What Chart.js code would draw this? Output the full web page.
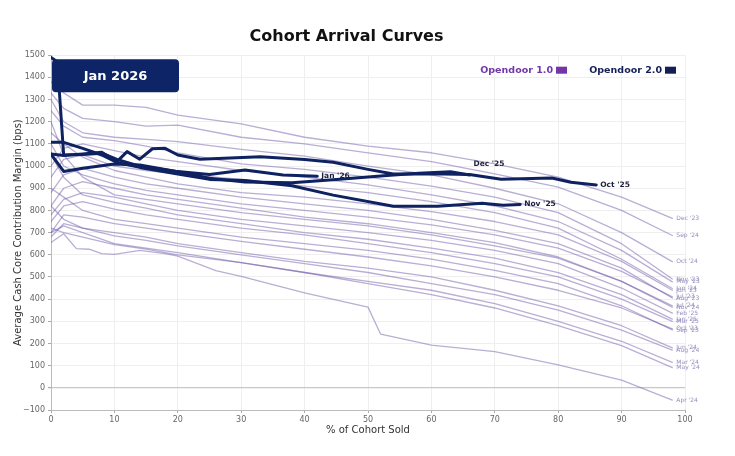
<!DOCTYPE html>
<html lang="en">
<head>
  <meta charset="UTF-8" />
  <title>Cohort Arrival Curves</title>
  <script src="https://cdn.jsdelivr.net/npm/chart.js"></script>
  <style>
    html, body { margin: 0; padding: 0; background: #fff; }
    #wrap { width: 735px; height: 456px; }
  </style>
</head>
<body>
  <div id="wrap"><canvas id="myChart"></canvas></div>

  <script>
    // % of cohort sold, shared x grid for the Opendoor 1.0 cohorts
    const pctSold = [0, 2, 5, 10, 15, 20, 30, 40, 50, 60, 70, 80, 90, 98];

    // Opendoor 1.0 cohorts (bps)
    const dec23 = [1380, 1330, 1275, 1275, 1265, 1230, 1190, 1130, 1090, 1060, 1010, 950, 860, 764];
    const sep24 = [1330, 1260, 1215, 1200, 1180, 1185, 1130, 1100, 1060, 1020, 965, 905, 800, 687];
    const oct24 = [1300, 1200, 1150, 1130, 1120, 1110, 1075, 1045, 1000, 960, 900, 830, 700, 569];
    const nov23 = [1250, 1180, 1130, 1115, 1090, 1060, 1010, 985, 950, 910, 860, 790, 650, 491];
    const may23 = [1000, 1080, 1100, 1070, 1040, 1020, 980, 950, 915, 870, 820, 750, 620, 478];
    const jan24 = [950, 1030, 1050, 1000, 980, 965, 940, 910, 880, 840, 790, 720, 580, 448];
    const jun23 = [1150, 1100, 1040, 980, 950, 920, 880, 860, 830, 795, 750, 690, 570, 440];
    const aug23 = [880, 960, 990, 950, 920, 900, 860, 830, 800, 760, 710, 650, 540, 405];
    const jul23 = [1100, 1000, 960, 920, 890, 870, 830, 800, 770, 735, 690, 630, 525, 410];
    const nov24 = [820, 900, 930, 900, 870, 850, 810, 770, 740, 700, 655, 590, 480, 364];
    const jul24 = [1200, 1050, 950, 870, 850, 830, 790, 760, 730, 690, 640, 585, 480, 370];
    const feb25 = [780, 850, 880, 860, 830, 800, 760, 730, 700, 665, 620, 560, 450, 337];
    const jan25 = [1050, 950, 870, 836, 810, 780, 740, 700, 670, 630, 585, 520, 420, 310];
    const mar25 = [750, 820, 840, 806, 780, 760, 720, 690, 650, 610, 560, 500, 400, 300];
    const sep23 = [900, 860, 800, 760, 740, 720, 680, 650, 620, 580, 530, 470, 370, 261];
    const oct23 = [700, 780, 770, 740, 720, 700, 660, 625, 590, 550, 500, 440, 360, 266];
    const jun24 = [820, 760, 720, 700, 680, 650, 610, 570, 540, 500, 440, 370, 280, 180];
    const aug24 = [680, 740, 720, 685, 665, 640, 600, 560, 520, 470, 420, 350, 260, 170];
    const mar24 = [700, 730, 700, 650, 630, 610, 565, 520, 480, 440, 380, 300, 210, 115];
    const may24 = [720, 700, 680, 646, 625, 600, 565, 520, 470, 420, 360, 280, 190, 91];

    const od1Series = [dec23, sep24, oct24, nov23, may23, jan24, jun23, aug23, jul23, nov24,
                       jul24, feb25, jan25, mar25, sep23, oct23, jun24, aug24, mar24, may24];
    const od1Labels = ["Dec '23", "Sep '24", "Oct '24", "Nov '23", "May '23", "Jan '24", "Jun '23",
                       "Aug '23", "Jul '23", "Nov '24", "Jul '24", "Feb '25", "Jan '25", "Mar '25",
                       "Sep '23", "Oct '23", "Jun '24", "Aug '24", "Mar '24", "May '24"];

    // Apr '24 has its own grid (the step down just after 50%)
    const apr24Pct = [0, 2, 4, 6, 8, 10, 14, 18, 20, 26, 30, 40, 44, 50, 52, 60, 70, 80, 90, 98];
    const apr24 = [655, 695, 628, 625, 605, 602, 620, 605, 594, 529, 503, 428, 402, 364, 242, 193, 163, 103, 35, -55];

    // Opendoor 2.0 cohorts
    const oct25Pct = [0, 2, 5, 8, 10.4, 12, 14, 16, 18, 20, 23.5, 33, 40, 44.5, 50, 54, 60, 66, 71, 79, 82, 86];
    const oct25 = [1054, 1048, 1055, 1062, 1020, 1065, 1031, 1078, 1080, 1050, 1031, 1042, 1030, 1017, 985, 964, 965, 962, 941, 946, 927, 915];
    const nov25Pct = [0, 2, 5, 8, 10.4, 14, 20, 25, 30.6, 38, 44.5, 54, 61, 68, 71.3, 74];
    const nov25 = [1107, 1107, 1080, 1050, 1016, 994, 964, 940, 935, 911, 869, 819, 819, 832, 823, 827];
    const dec25Pct = [0, 2, 5, 8, 10, 14, 20, 25, 30.6, 38, 45, 53.5, 58, 63, 66];
    const dec25 = [1054, 976, 990, 1001, 1009, 1005, 975, 945, 928, 925, 940, 959, 968, 974, 960];
    const jan26Pct = [0, 1, 2, 5, 8, 10.4, 14, 20, 25, 30.6, 36.6, 42];
    const jan26 = [1490, 1470, 1050, 1052, 1058, 1030, 1000, 975, 962, 982, 960, 954];

    const od2Series = [[oct25Pct, oct25, "Oct '25"], [nov25Pct, nov25, "Nov '25"],
                       [dec25Pct, dec25, "Dec '25"], [jan26Pct, jan26, "Jan '26"]];

    const purpleLine = 'rgba(108, 86, 165, 0.48)';
    const navy = '#0e2262';

    const pairUp = (xs, ys) => xs.map((x, i) => ({ x: x, y: ys[i] }));

    const datasets = [];
    od1Series.forEach((s, i) => {
      datasets.push({ label: od1Labels[i], data: pairUp(pctSold, s), group: 1 });
    });
    datasets.push({ label: "Apr '24", data: pairUp(apr24Pct, apr24), group: 1 });
    od2Series.forEach(s => {
      datasets.push({ label: s[2], data: pairUp(s[0], s[1]), group: 2 });
    });
    datasets.forEach(d => {
      const two = d.group === 2;
      d.borderColor = two ? navy : purpleLine;
      d.borderWidth = two ? 3 : 1.3;
      d.order = two ? 0 : 1;
      d.pointRadius = 0;
      d.fill = false;
      d.tension = 0;
      d.borderCapStyle = 'round';
      d.borderJoinStyle = 'round';
    });

    // end-of-line labels, legend and the "Jan 2026" badge
    const overlay = {
      id: 'overlay',
      afterDatasetsDraw(chart) {
        const ctx = chart.ctx;
        const area = chart.chartArea;
        ctx.save();
        ctx.textBaseline = 'middle';
        ctx.textAlign = 'left';
        chart.data.datasets.forEach((d, i) => {
          const pts = chart.getDatasetMeta(i).data;
          const p = pts[pts.length - 1];
          if (d.group === 2) {
            ctx.font = 'bold 7.5px "DejaVu Sans"';
            ctx.fillStyle = '#1c1f3a';
            const dy = d.label === "Dec '25" ? -11 : 0;
            ctx.fillText(d.label, p.x + 4, p.y + dy);
          } else {
            ctx.font = '6px "DejaVu Sans"';
            ctx.fillStyle = '#968cbc';
            ctx.fillText(d.label, p.x + 4, p.y);
          }
        });

        // legend (text then swatch)
        const legend = [['Opendoor 1.0', '#7236a8', 553], ['Opendoor 2.0', '#141f55', 662]];
        ctx.font = 'bold 9.5px "DejaVu Sans"';
        ctx.textAlign = 'right';
        legend.forEach(l => {
          ctx.fillStyle = l[1];
          ctx.fillText(l[0], l[2], area.top + 15);
          ctx.fillRect(l[2] + 3, area.top + 11.5, 11, 7);
        });

        // badge
        const bx = area.left + 1, by = area.top + 4, bw = 127, bh = 33;
        ctx.fillStyle = '#0d2567';
        ctx.beginPath();
        ctx.roundRect(bx, by, bw, bh, 4);
        ctx.fill();
        ctx.fillStyle = '#ffffff';
        ctx.font = 'bold 13px "DejaVu Sans"';
        ctx.textAlign = 'center';
        ctx.fillText('Jan 2026', bx + bw / 2, by + bh / 2 + 0.5);
        ctx.restore();
      }
    };

    const ctx = document.getElementById('myChart');
    new Chart(ctx, {
      type: 'line',
      data: { datasets: datasets },
      options: {
        responsive: true,
        maintainAspectRatio: false,
        animation: false,
        layout: { padding: { left: 8, right: 50, top: 0, bottom: 20 } },
        scales: {
          x: {
            type: 'linear',
            min: 0,
            max: 100,
            ticks: { stepSize: 10, color: '#666', font: { family: 'DejaVu Sans', size: 8 }, padding: 2 },
            grid: { color: '#efefef', tickLength: 3, tickColor: '#aaa' },
            border: { color: '#bbb' },
            title: { display: true, text: '% of Cohort Sold', color: '#333',
                     font: { family: 'DejaVu Sans', size: 10 }, padding: { top: 2, bottom: 0 } },
            afterFit(s) { s.height = 26; }
          },
          y: {
            min: -100,
            max: 1500,
            ticks: {
              stepSize: 100, color: '#666', font: { family: 'DejaVu Sans', size: 8 }, padding: 3,
              callback: v => String(v).replace('-', '\u2212')
            },
            grid: {
              color: c => (c.tick && c.tick.value === 0 ? '#c8c8c8' : '#efefef'),
              lineWidth: c => (c.tick && c.tick.value === 0 ? 1.2 : 1),
              tickLength: 3, tickColor: '#aaa'
            },
            border: { color: '#bbb' },
            title: { display: true, text: 'Average Cash Core Contribution Margin (bps)', color: '#333',
                     font: { family: 'DejaVu Sans', size: 10 } },
            afterFit(s) { s.width = 43; }
          }
        },
        plugins: {
          legend: { display: false },
          tooltip: { enabled: false },
          title: {
            display: true,
            text: 'Cohort Arrival Curves',
            color: '#111',
            font: { family: 'DejaVu Sans', size: 16, weight: 'bold' },
            padding: { top: 27, bottom: 9 }
          }
        }
      },
      plugins: [overlay]
    });
  </script>
</body>
</html>
